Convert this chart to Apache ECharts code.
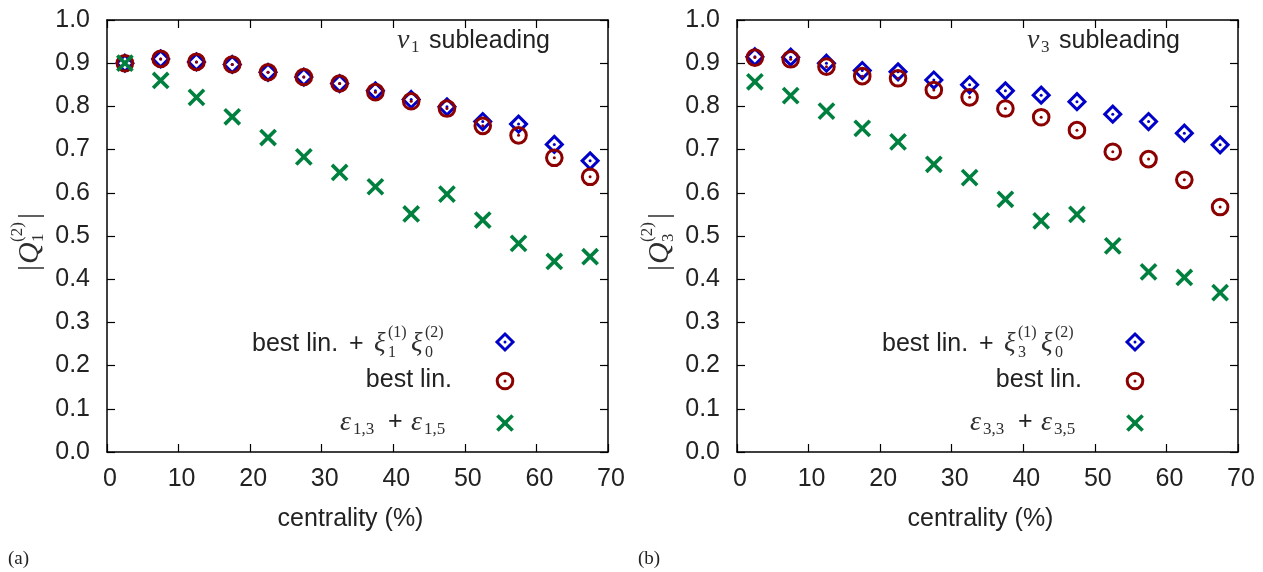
<!DOCTYPE html>
<html>
<head>
<meta charset="utf-8">
<script src="https://cdn.jsdelivr.net/npm/echarts@6/dist/echarts.min.js"></script>
<style>
html,body{margin:0;padding:0;background:#fff;}
#chart{width:1263px;height:572px;}
</style>
</head>
<body>
<div id="chart"></div>
<script>
// ---------- data ----------
const centrality = [2.5, 7.5, 12.5, 17.5, 22.5, 27.5, 32.5, 37.5, 42.5, 47.5, 52.5, 57.5, 62.5, 67.5];
const xTicks = [0, 10, 20, 30, 40, 50, 60, 70];
const yTicks = [0.0, 0.1, 0.2, 0.3, 0.4, 0.5, 0.6, 0.7, 0.8, 0.9, 1.0];

// panel (a): v1 subleading
const v1BestLinXi = [0.900, 0.910, 0.903, 0.897, 0.879, 0.868, 0.853, 0.836, 0.816, 0.799, 0.765, 0.759, 0.712, 0.674];
const v1BestLin   = [0.900, 0.910, 0.903, 0.897, 0.879, 0.868, 0.853, 0.833, 0.812, 0.795, 0.755, 0.733, 0.681, 0.637];
const v1Eps       = [0.900, 0.860, 0.821, 0.776, 0.728, 0.683, 0.647, 0.614, 0.551, 0.597, 0.537, 0.483, 0.441, 0.452];

// panel (b): v3 subleading
const v3BestLinXi = [0.915, 0.914, 0.900, 0.883, 0.880, 0.861, 0.850, 0.836, 0.826, 0.811, 0.782, 0.765, 0.738, 0.711];
const v3BestLin   = [0.913, 0.909, 0.892, 0.870, 0.865, 0.838, 0.821, 0.795, 0.775, 0.745, 0.695, 0.678, 0.630, 0.567];
const v3Eps       = [0.857, 0.825, 0.789, 0.749, 0.718, 0.666, 0.635, 0.585, 0.535, 0.550, 0.477, 0.417, 0.404, 0.369];

// ---------- style ----------
const BLUE = '#0000c8', RED = '#8c0000', GREEN = '#00803f';
const TXT = '#222222', MATH = '#2e2e2e';
const SANS = '"Liberation Sans", Arial, Helvetica, sans-serif';
const SERIF = '"Liberation Serif", "DejaVu Serif", serif';

function pairs(ys) { return centrality.map((x, i) => [x, ys[i]]); }

function diamondShape(cx, cy) {
  const r = 8;
  return [
    {type: 'polygon', shape: {points: [[cx, cy - r], [cx + r, cy], [cx, cy + r], [cx - r, cy]]},
     style: {fill: 'none', stroke: BLUE, lineWidth: 3}},
    {type: 'circle', shape: {cx: cx, cy: cy, r: 1.5}, style: {fill: BLUE}}
  ];
}
function circleShape(cx, cy) {
  return [
    {type: 'circle', shape: {cx: cx, cy: cy, r: 7.8}, style: {fill: 'none', stroke: RED, lineWidth: 3}},
    {type: 'circle', shape: {cx: cx, cy: cy, r: 1.5}, style: {fill: RED}}
  ];
}
function crossShape(cx, cy) {
  const a = 7.6;
  return [
    {type: 'line', shape: {x1: cx - a, y1: cy - a, x2: cx + a, y2: cy + a}, style: {stroke: GREEN, lineWidth: 3.6}},
    {type: 'line', shape: {x1: cx - a, y1: cy + a, x2: cx + a, y2: cy - a}, style: {stroke: GREEN, lineWidth: 3.6}}
  ];
}
function markerSeries(name, idx, ys, shapeFn) {
  return {
    name: name, type: 'custom', xAxisIndex: idx * 2, yAxisIndex: idx * 2,
    data: pairs(ys), clip: false, silent: true,
    renderItem: function (params, api) {
      const p = api.coord([api.value(0), api.value(1)]);
      return {type: 'group', children: shapeFn(p[0], p[1])};
    }
  };
}

const GRID_TOP = 20, GRID_H = 432, GRID_W = 501;
const gridLefts = [107, 737];

function xAxes(gi) {
  const base = {
    gridIndex: gi, type: 'value', min: 0, max: 70, interval: 10,
    splitLine: {show: false},
    axisLine: {show: true, onZero: false, lineStyle: {color: '#000', width: 1.5}},
    axisTick: {show: true, inside: true, length: 8, lineStyle: {color: '#000', width: 1.2}}
  };
  return [
    Object.assign({}, base, {
      position: 'bottom',
      axisLabel: {show: true, fontSize: 25, color: TXT, fontFamily: SANS, margin: 15,
        padding: [0, 0, 0, 6], formatter: v => String(xTicks.find(t => Math.abs(t - v) < 1e-9))},
      name: 'centrality (%)', nameLocation: 'middle', nameGap: 55,
      nameTextStyle: {fontSize: 25, color: TXT, fontFamily: SANS, padding: [0, 14, 0, 0]}
    }),
    Object.assign({}, base, {position: 'top', axisLabel: {show: false}})
  ];
}
function yAxes(gi) {
  const base = {
    gridIndex: gi, type: 'value', min: 0, max: 1, interval: 0.1,
    splitLine: {show: false},
    axisLine: {show: true, onZero: false, lineStyle: {color: '#000', width: 1.5}},
    axisTick: {show: true, inside: true, length: 8, lineStyle: {color: '#000', width: 1.2}}
  };
  return [
    Object.assign({}, base, {
      position: 'left',
      axisLabel: {show: true, fontSize: 25, color: TXT, fontFamily: SANS, margin: 17,
        formatter: v => yTicks.find(t => Math.abs(t - v) < 1e-9).toFixed(1)}
    }),
    Object.assign({}, base, {position: 'right', axisLabel: {show: false}})
  ];
}

// ---------- text helpers (graphic) ----------
function T(x, y, text, font, size, opts) {
  opts = opts || {};
  return {
    type: 'text', x: x, y: y, silent: true,
    style: {
      text: text, fill: opts.color || (font === SANS ? TXT : MATH),
      font: (opts.italic ? 'italic ' : '') + size + 'px ' + font,
      textAlign: opts.align || 'left', textVerticalAlign: 'middle', verticalAlign: 'middle'
    }
  };
}

function titleGraphic(dx, n) {
  return [
    T(397 + dx, 41, 'v', SERIF, 28, {italic: true}),
    T(411 + dx, 48, String(n), SERIF, 17),
    T(429 + dx, 41, 'subleading', SANS, 25)
  ];
}
function legendGraphic(dx, n) {
  const g = [];
  // row 1
  g.push(T(252 + dx, 344, 'best lin.', SANS, 25));
  g.push(T(349 + dx, 344, '+', SANS, 25));
  g.push(T(374 + dx, 344, 'ξ', SERIF, 27, {italic: true}));
  g.push(T(388 + dx, 333, '(1)', SERIF, 16));
  g.push(T(388 + dx, 353, String(n), SERIF, 16));
  g.push(T(411 + dx, 344, 'ξ', SERIF, 27, {italic: true}));
  g.push(T(425 + dx, 333, '(2)', SERIF, 16));
  g.push(T(425 + dx, 353, '0', SERIF, 16));
  // row 2
  g.push(T(452 + dx, 380, 'best lin.', SANS, 25, {align: 'right'}));
  // row 3
  g.push(T(340 + dx, 423, 'ε', SERIF, 28, {italic: true}));
  g.push(T(353 + dx, 430, n + ',3', SERIF, 17));
  g.push(T(388 + dx, 422, '+', SANS, 25));
  g.push(T(411 + dx, 423, 'ε', SERIF, 28, {italic: true}));
  g.push(T(424 + dx, 430, n + ',5', SERIF, 17));
  // markers
  g.push({type: 'group', silent: true, children: diamondShape(505 + dx, 342)});
  g.push({type: 'group', silent: true, children: circleShape(505 + dx, 381)});
  g.push({type: 'group', silent: true, children: crossShape(505 + dx, 423)});
  return g;
}
function yLabelGraphic(cx, cy, n) {
  return {
    type: 'group', x: cx, y: cy, rotation: Math.PI / 2, silent: true,
    children: [
      T(-33, 0, '|', SERIF, 30),
      T(-26, 0, 'Q', SERIF, 30, {italic: true}),
      T(-4, -12, '(2)', SERIF, 17),
      T(-4, 9, String(n), SERIF, 17),
      T(19, 0, '|', SERIF, 30)
    ]
  };
}

const graphic = [].concat(
  titleGraphic(0, 1), titleGraphic(630, 3),
  legendGraphic(0, 1), legendGraphic(630, 3),
  [yLabelGraphic(30, 238, 1), yLabelGraphic(660, 238, 3),
   T(8, 559, '(a)', SERIF, 19, {color: '#222'}), T(638, 559, '(b)', SERIF, 19, {color: '#222'})]
);

const option = {
  animation: false,
  backgroundColor: '#fff',
  grid: gridLefts.map(l => ({left: l, top: GRID_TOP, width: GRID_W, height: GRID_H, containLabel: false})),
  xAxis: [].concat(xAxes(0), xAxes(1)),
  yAxis: [].concat(yAxes(0), yAxes(1)),
  series: [
    markerSeries('best lin. + xi xi (a)', 0, v1BestLinXi, diamondShape),
    markerSeries('best lin. (a)', 0, v1BestLin, circleShape),
    markerSeries('eps (a)', 0, v1Eps, crossShape),
    markerSeries('best lin. + xi xi (b)', 1, v3BestLinXi, diamondShape),
    markerSeries('best lin. (b)', 1, v3BestLin, circleShape),
    markerSeries('eps (b)', 1, v3Eps, crossShape)
  ],
  graphic: graphic
};

const chart = echarts.init(document.getElementById('chart'), null, {renderer: 'canvas'});
chart.setOption(option);
</script>
</body>
</html>
